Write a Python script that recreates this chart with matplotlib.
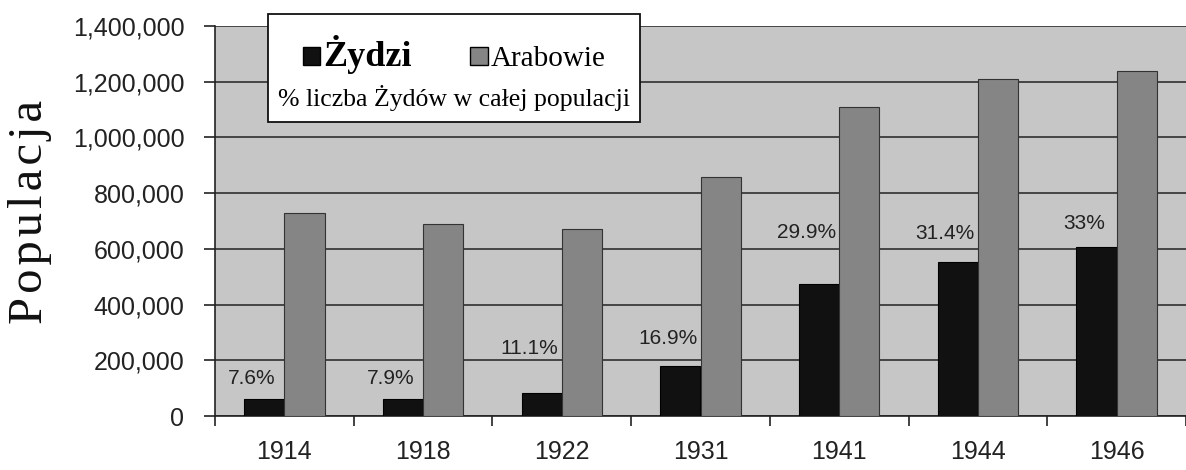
import numpy as np
import matplotlib
matplotlib.use("Agg")
import matplotlib.pyplot as plt
from matplotlib.patches import Rectangle
from matplotlib.offsetbox import DrawingArea
from matplotlib.ticker import FuncFormatter, MultipleLocator, FixedLocator

years = ["1914", "1918", "1922", "1931", "1941", "1944", "1946"]
jews = [60000, 60000, 84000, 178000, 474000, 553000, 608000]
arabs = [729000, 690000, 670000, 858000, 1111000, 1211000, 1238000]
pct_labels = ["7.6%", "7.9%", "11.1%", "16.9%", "29.9%", "31.4%", "33%"]
label_dy = [8, 8, 25, 13, 30, 14, 10]  # points above the Jews bar

series_names = ["Żydzi", "Arabowie"]
legend_note = "% liczba Żydów w całej populacji"
ylabel = "\u200a".join("Populacja")

C_JEW = "#111111"
C_ARAB = "#858585"
C_BG = "#c6c6c6"

fig = plt.figure(figsize=(11.86, 4.70), dpi=100)
ax = fig.add_axes([215/1186, 54/470, 1 - 215/1186, (416-26)/470])
ax.set_facecolor(C_BG)

x = np.arange(len(years))
w = 0.29
b1 = ax.bar(x - w/2, jews, w, color=C_JEW, edgecolor="#000000", linewidth=0.8, zorder=3)
b2 = ax.bar(x + w/2, arabs, w, color=C_ARAB, edgecolor="#333333", linewidth=0.8, zorder=3)

ax.set_xlim(-0.5, len(years) - 0.5)
ax.set_ylim(0, 1400000)
ax.yaxis.set_major_locator(MultipleLocator(200000))
ax.yaxis.set_major_formatter(FuncFormatter(lambda v, p: f"{int(v):,}"))
ax.grid(axis="y", color="#222222", linewidth=1.1, zorder=1)
ax.set_axisbelow(True)

ax.set_xticks(x)
ax.set_xticklabels(years)
ax.xaxis.set_minor_locator(FixedLocator(np.arange(-0.5, len(years), 1.0)))
ax.tick_params(axis="x", which="major", length=0, pad=17, labelsize=18, labelcolor="#222222")
ax.tick_params(axis="x", which="minor", length=7, width=1.2, color="#222222", direction="out")
ax.tick_params(axis="y", length=8, width=1.2, color="#222222", pad=14, labelsize=18, labelcolor="#222222")
for lab in ax.get_xticklabels() + ax.get_yticklabels():
    lab.set_family("Liberation Sans")

for s in ["top", "right"]:
    ax.spines[s].set_visible(False)
ax.spines["left"].set_color("#222222")
ax.spines["left"].set_linewidth(1.2)
ax.spines["bottom"].set_color("#222222")
ax.spines["bottom"].set_linewidth(1.2)

for rect, lab, dy in zip(b1, pct_labels, label_dy):
    ax.annotate(lab, (rect.get_x() + rect.get_width()/2, rect.get_height()),
                xytext=(-9, dy), textcoords="offset points", ha="center", va="bottom",
                fontsize=15, color="#222222", family="Liberation Sans", zorder=5)

fig.text(0.025, (470 - 212) / 470, ylabel, rotation=90, ha="center", va="center",
         fontsize=35, family="Liberation Serif", color="#111111")

handles = [Rectangle((0, 0), 1, 1, facecolor=C_JEW, edgecolor="#000000", linewidth=1),
           Rectangle((0, 0), 1, 1, facecolor=C_ARAB, edgecolor="#000000", linewidth=1)]
leg = fig.legend(handles, series_names, ncol=2, loc="upper left",
                 bbox_to_anchor=(268/1186, 1 - 14/470), bbox_transform=fig.transFigure,
                 borderaxespad=0,
                 title=legend_note, fancybox=False, framealpha=1, edgecolor="#111111",
                 handlelength=0.6, handleheight=0.6, handletextpad=0.1,
                 columnspacing=2.0, borderpad=0.35,
                 prop={"family": "Liberation Serif", "size": 21},
                 title_fontproperties={"family": "Liberation Serif", "size": 18.5})
leg.get_frame().set_linewidth(1.3)
leg.get_texts()[0].set_fontweight("bold")
leg.get_texts()[0].set_fontsize(26)
# put the note below the entries, with a little extra room on top
leg._legend_box._children.reverse()
leg._legend_box._children.insert(0, DrawingArea(1, 0))
leg._legend_box.sep = 8

fig.savefig("out.png", dpi=100, facecolor="white")
